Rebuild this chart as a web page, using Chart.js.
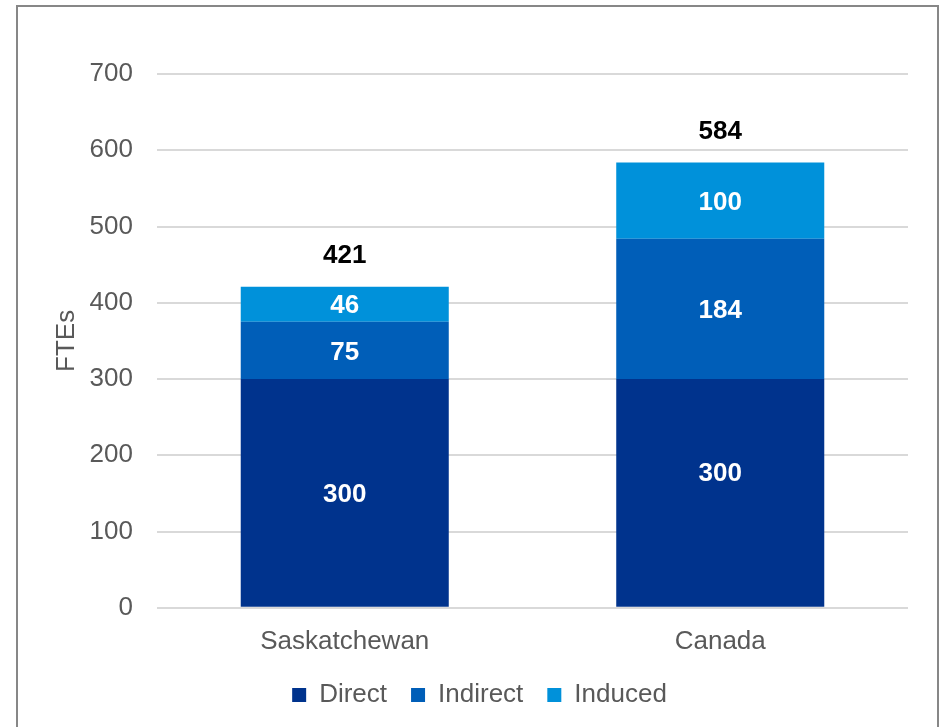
<!DOCTYPE html>
<html lang="en">

<head>
    <meta charset="UTF-8">
    <title>FTEs by region</title>
    <style>
        html, body {
            margin: 0;
            padding: 0;
            background: #fff;
            overflow: hidden;
        }

        #frame {
            position: absolute;
            left: 16px;
            top: 5px;
            width: 923px;
            height: 800px;
            box-sizing: border-box;
            border: 2px solid #878787;
            border-bottom: none;
        }

        #wrap {
            position: absolute;
            left: 0;
            top: 0;
            width: 940px;
            height: 727px;
        }
    </style>
</head>

<body>
    <div id="frame"></div>
    <div id="wrap">
        <canvas id="fteChart" width="940" height="727"></canvas>
    </div>

    <script src="https://cdn.jsdelivr.net/npm/chart.js"></script>
    <script>
        const regions = ["Saskatchewan", "Canada"];
        const direct = [300, 300];
        const indirect = [75, 184];
        const induced = [46, 100];
        const totals = [421, 584];

        const FONT = "'Liberation Sans', Arial, sans-serif";
        const GREY = '#595959';

        // value labels inside each segment, plus the total above each stack
        const stackLabels = {
            id: 'stackLabels',
            afterDatasetsDraw(chart, args, opts) {
                const ctx = chart.ctx;
                ctx.save();
                ctx.textAlign = 'center';
                ctx.textBaseline = 'middle';
                ctx.font = `bold 26px ${FONT}`;
                chart.data.datasets.forEach((ds, di) => {
                    const meta = chart.getDatasetMeta(di);
                    meta.data.forEach((bar, i) => {
                        const nudge = (opts.nudge && opts.nudge[di + ',' + i]) || 0;
                        const y = (bar.y + bar.base) / 2 + 2 + nudge;
                        ctx.fillStyle = '#ffffff';
                        ctx.fillText(ds.data[i], bar.x, y);
                    });
                });
                const top = chart.getDatasetMeta(chart.data.datasets.length - 1);
                top.data.forEach((bar, i) => {
                    ctx.fillStyle = '#000000';
                    ctx.fillText(totals[i], bar.x, chart.scales.y.getPixelForValue(totals[i]) - 31);
                });
                ctx.restore();
            }
        };

        const ctx = document.getElementById('fteChart').getContext('2d');
        new Chart(ctx, {
            type: 'bar',
            data: {
                labels: regions,
                datasets: [
                    { label: 'Direct', data: direct, backgroundColor: '#00338D' },
                    { label: 'Indirect', data: indirect, backgroundColor: '#005EB8' },
                    { label: 'Induced', data: induced, backgroundColor: '#0091DA' }
                ]
            },
            options: {
                responsive: false,
                animation: false,
                layout: {
                    padding: { left: 51, right: 32, top: 74, bottom: 9 }
                },
                datasets: {
                    bar: {
                        categoryPercentage: 1,
                        barPercentage: 0.554
                    }
                },
                scales: {
                    x: {
                        stacked: true,
                        grid: { display: false },
                        border: { display: false },
                        afterFit: (scale) => { scale.height -= 9; },
                        ticks: {
                            color: GREY,
                            padding: 10,
                            font: { family: FONT, size: 26 }
                        }
                    },
                    y: {
                        stacked: true,
                        min: 0,
                        max: 700,
                        afterFit: (scale) => { scale.width = 106; },
                        grid: {
                            color: '#d9d9d9',
                            lineWidth: 2,
                            drawTicks: false
                        },
                        border: { display: false },
                        ticks: {
                            stepSize: 100,
                            color: GREY,
                            padding: 24,
                            font: { family: FONT, size: 26 }
                        },
                        title: {
                            display: true,
                            text: 'FTEs',
                            color: GREY,
                            padding: 0,
                            font: { family: FONT, size: 26 }
                        }
                    }
                },
                plugins: {
                    legend: {
                        position: 'bottom',
                        labels: {
                            boxWidth: 14,
                            boxHeight: 14,
                            padding: 24,
                            color: GREY,
                            font: { family: FONT, size: 26 }
                        }
                    },
                    tooltip: { enabled: false },
                    stackLabels: {
                        nudge: { '0,1': -21 }
                    }
                }
            },
            plugins: [stackLabels]
        });
    </script>
</body>

</html>
